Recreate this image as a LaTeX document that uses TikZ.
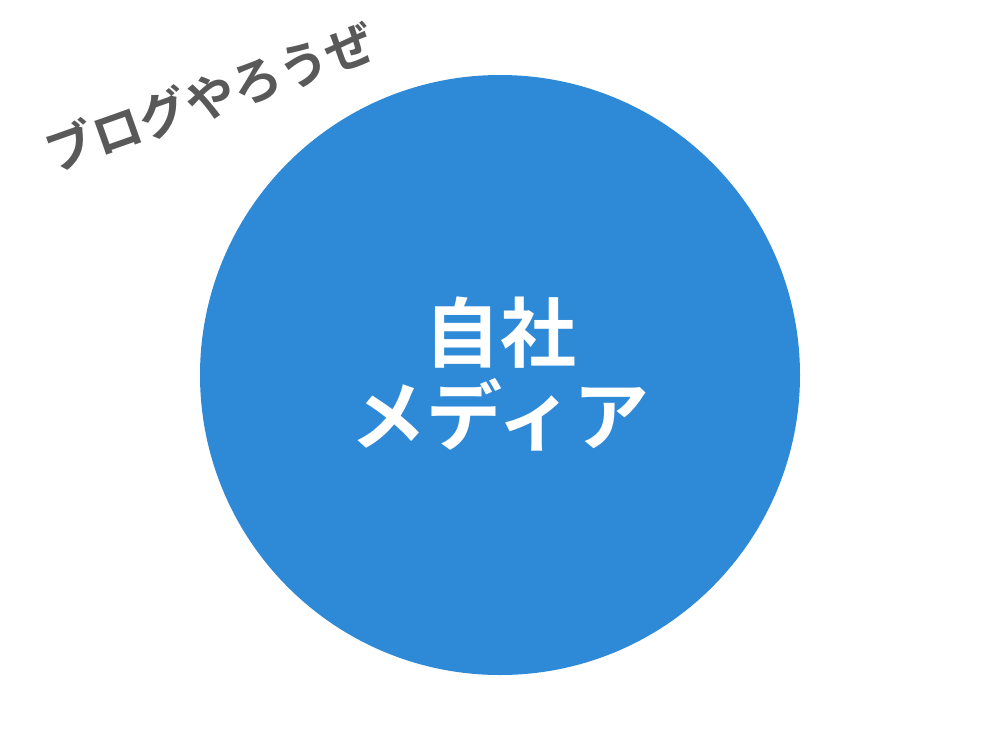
\documentclass[tikz,border=0pt]{standalone}
\usepackage{fontspec}
\newfontfamily\jpfont{Noto Sans CJK JP}[BoldFont={Noto Sans CJK JP Bold}]
\definecolor{mediablue}{RGB}{46,137,214}
\definecolor{slogangray}{RGB}{89,89,89}
\begin{document}
\begin{tikzpicture}[x=0.75pt,y=0.75pt,yscale=-1,xscale=1]
%set diagram frame to 1000 x 750
\useasboundingbox (0,0) rectangle (1000,750);

%Shape: Circle [id:media]
\fill [color=mediablue] (500,375) circle [radius=300];

% Text Node
\node (media) at (500,374) [inner sep=0.75pt, align=center, text=white, font=\jpfont\bfseries\fontsize{57}{62}\selectfont] {自社\\メディア};
% Text Node
\node (slogan) at (210,97) [inner sep=0.75pt, rotate=19.5, text=slogangray, font=\jpfont\bfseries\fontsize{37}{44}\selectfont] {ブログやろうぜ};

\end{tikzpicture}
\end{document}
